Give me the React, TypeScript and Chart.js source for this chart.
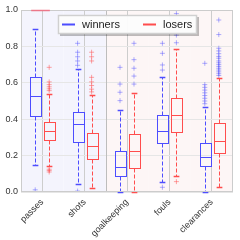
import React, { useEffect, useRef } from "react";
import { Chart, registerables } from "chart.js";

Chart.register(...registerables);

const categories = ["passes", "shots", "goalkeeping", "fouls", "clearances"];
const yTicks = [0, 0.2, 0.4, 0.6, 0.8, 1.0];
const seriesLabels = ["winners", "losers"];

const winnersLow = [0.148, 0.044, 0.0, 0.057, 0.0];
const winnersQ1 = [0.419, 0.276, 0.086, 0.271, 0.142];
const winnersMedian = [0.526, 0.372, 0.138, 0.335, 0.192];
const winnersQ3 = [0.633, 0.441, 0.223, 0.423, 0.271];
const winnersHigh = [0.897, 0.674, 0.45, 0.634, 0.469];
const winnersOutliers = [
  [0.012],
  [0.817, 0.768, 0.743, 0.72, 0.696, 0.005],
  [0.685, 0.593, 0.548, 0.502],
  [0.817, 0.762, 0.698, 0.67, 0.026],
  [0.707, 0.59, 0.575, 0.56, 0.545, 0.53, 0.515, 0.5, 0.485],
];

const losersLow = [0.141, 0.02, 0.0, 0.088, 0.026];
const losersQ1 = [0.286, 0.183, 0.134, 0.331, 0.212];
const losersMedian = [0.337, 0.254, 0.225, 0.423, 0.282];
const losersQ3 = [0.386, 0.322, 0.317, 0.515, 0.377];
const losersHigh = [0.54, 0.533, 0.546, 0.785, 0.625];
const losersOutliersRed = [
  [0.685, 0.605, 0.59, 0.578, 0.567, 0.557, 0.125, 0.118, 0.11],
  [0.768, 0.743, 0.72, 0.63, 0.605, 0.585, 0.565, 0.55],
  [],
  [0.057],
  [],
];
const losersOutliersBlue = [
  [],
  [],
  [0.817, 0.727, 0.68, 0.637, 0.593],
  [0.98, 0.862, 0.82],
  [0.945, 0.865, 0.79, 0.775, 0.76, 0.745, 0.735, 0.72, 0.71, 0.7, 0.69, 0.68, 0.67, 0.66, 0.65, 0.64],
];
const passesTopMark = 1.0;

const BLUE = "#4d4dff";
const RED = "#ff4d4d";
const BLUE_FLIER = "rgba(77,77,255,0.45)";
const RED_FLIER = "rgba(255,77,77,0.5)";
const OFF = 0.165;
const HALF = 0.135;
const FONT = '"Liberation Sans", Arial, sans-serif';

function pts(groups: number[][], off: number) {
  const out: { x: number; y: number }[] = [];
  groups.forEach((g, i) => g.forEach((v) => out.push({ x: i + off, y: v })));
  return out;
}

const boxPlugin = {
  id: "boxes",
  beforeDraw(chart: any) {
    const { ctx, chartArea: a, scales } = chart;
    const x = scales.x;
    ctx.save();
    ctx.fillStyle = "#ffffff";
    ctx.fillRect(0, 0, chart.width, chart.height);
    categories.forEach((_, i) => {
      const l = Math.max(a.left, x.getPixelForValue(i - 0.5));
      const r = Math.min(a.right, x.getPixelForValue(i + 0.5));
      ctx.fillStyle = losersMedian[i] > winnersMedian[i] ? "#fdf6f6" : "#f4f4fd";
      ctx.fillRect(l, a.top, r - l, a.bottom - a.top);
    });
    ctx.restore();
  },
  beforeDatasetsDraw(chart: any) {
    const { ctx, chartArea: a, scales } = chart;
    const x = scales.x;
    const y = scales.y;
    ctx.save();
    ctx.strokeStyle = "#bdbdbd";
    ctx.lineWidth = 1;
    for (let i = 1; i < categories.length; i++) {
      const p = losersMedian[i] > winnersMedian[i];
      const q = losersMedian[i - 1] > winnersMedian[i - 1];
      if (p !== q) {
        const px = Math.round(x.getPixelForValue(i - 0.5)) + 0.5;
        ctx.beginPath();
        ctx.moveTo(px, a.top);
        ctx.lineTo(px, a.bottom);
        ctx.stroke();
      }
    }
    const series = [
      { off: -OFF, color: BLUE, low: winnersLow, q1: winnersQ1, med: winnersMedian, q3: winnersQ3, high: winnersHigh },
      { off: OFF, color: RED, low: losersLow, q1: losersQ1, med: losersMedian, q3: losersQ3, high: losersHigh },
    ];
    const hw = x.getPixelForValue(HALF) - x.getPixelForValue(0);
    series.forEach((s) => {
      categories.forEach((_, i) => {
        const xc = Math.round(x.getPixelForValue(i + s.off)) + 0.5;
        const l = Math.round(xc - hw) + 0.5;
        const r = Math.round(xc + hw) + 0.5;
        const yq1 = Math.round(y.getPixelForValue(s.q1[i])) + 0.5;
        const yq3 = Math.round(y.getPixelForValue(s.q3[i])) + 0.5;
        const ym = Math.round(y.getPixelForValue(s.med[i])) + 0.5;
        const yl = Math.round(y.getPixelForValue(s.low[i])) + 0.5;
        const yh = Math.round(y.getPixelForValue(s.high[i])) + 0.5;
        ctx.strokeStyle = s.color;
        ctx.lineWidth = 1;
        ctx.setLineDash([4, 2]);
        ctx.beginPath();
        ctx.moveTo(xc, yq3);
        ctx.lineTo(xc, yh);
        ctx.moveTo(xc, yq1);
        ctx.lineTo(xc, yl);
        ctx.stroke();
        ctx.setLineDash([]);
        ctx.lineWidth = 1.5;
        ctx.beginPath();
        ctx.moveTo(xc - hw / 2, yh);
        ctx.lineTo(xc + hw / 2, yh);
        ctx.moveTo(xc - hw / 2, yl);
        ctx.lineTo(xc + hw / 2, yl);
        ctx.stroke();
        ctx.lineWidth = 1;
        ctx.strokeRect(l, yq3, r - l, yq1 - yq3);
        ctx.beginPath();
        ctx.moveTo(l, ym);
        ctx.lineTo(r, ym);
        ctx.stroke();
      });
    });
    ctx.restore();
  },
  afterDatasetsDraw(chart: any) {
    const { ctx, chartArea: a, scales } = chart;
    const x = scales.x;
    const y = scales.y;
    ctx.save();
    ctx.strokeStyle = "#cccccc";
    ctx.lineWidth = 1;
    ctx.strokeRect(Math.round(a.left) + 0.5, Math.round(a.top) + 0.5, Math.round(a.right - a.left) - 1, Math.round(a.bottom - a.top) - 1);
    ctx.strokeStyle = "rgba(240,110,130,0.9)";
    ctx.lineWidth = 1.5;
    const yt = Math.round(y.getPixelForValue(passesTopMark)) + 0.5;
    ctx.beginPath();
    ctx.moveTo(x.getPixelForValue(-0.26), yt);
    ctx.lineTo(x.getPixelForValue(0.18), yt);
    ctx.stroke();
    const lx = Math.round(a.left) + 37;
    const ly = Math.round(a.top) + 5;
    const lw = 139;
    const lh = 19;
    ctx.fillStyle = "rgba(0,0,0,0.25)";
    ctx.fillRect(lx + 2, ly + 2, lw, lh);
    ctx.fillStyle = "rgba(255,255,255,0.95)";
    ctx.fillRect(lx, ly, lw, lh);
    ctx.strokeStyle = "#d0d0d0";
    ctx.strokeRect(lx + 0.5, ly + 0.5, lw - 1, lh - 1);
    const cy = ly + 9.5;
    ctx.font = `11px ${FONT}`;
    ctx.textBaseline = "middle";
    ctx.textAlign = "left";
    const items = [
      { color: BLUE, x0: lx + 4, tx: lx + 24 },
      { color: RED, x0: lx + 85, tx: lx + 105 },
    ];
    items.forEach((it, k) => {
      ctx.strokeStyle = it.color;
      ctx.lineWidth = 2;
      ctx.beginPath();
      ctx.moveTo(it.x0, cy);
      ctx.lineTo(it.x0 + 13, cy);
      ctx.stroke();
      ctx.fillStyle = "#222222";
      ctx.fillText(seriesLabels[k], it.tx, cy);
    });
    ctx.restore();
  },
};

export default function App() {
  const ref = useRef<HTMLCanvasElement | null>(null);
  useEffect(() => {
    document.body.style.margin = "0";
    const canvas = ref.current;
    if (!canvas) return;
    const flier = (data: { x: number; y: number }[], color: string) => ({
      data,
      pointStyle: "cross",
      radius: 2.5,
      borderColor: color,
      backgroundColor: color,
      borderWidth: 1,
    });
    const chart = new Chart(canvas, {
      type: "scatter",
      data: {
        datasets: [
          flier(pts(winnersOutliers, -OFF), BLUE_FLIER),
          flier(pts(losersOutliersRed, OFF), RED_FLIER),
          flier(pts(losersOutliersBlue, OFF), BLUE_FLIER),
        ] as any,
      },
      options: {
        responsive: false,
        animation: false,
        devicePixelRatio: 1,
        layout: { padding: { top: 10, right: 7, left: 0, bottom: 0 } },
        plugins: { legend: { display: false }, tooltip: { enabled: false } },
        scales: {
          x: {
            type: "linear",
            min: -0.5,
            max: 4.5,
            afterFit: (s: any) => {
              s.height = 48;
            },
            afterBuildTicks: (s: any) => {
              s.ticks = categories.map((_, i) => ({ value: i }));
            },
            ticks: {
              autoSkip: false,
              minRotation: 45,
              maxRotation: 45,
              padding: 5,
              color: "#333333",
              font: { family: FONT, size: 9 },
              callback: (v: any) => categories[v as number],
            },
            grid: { color: "#cdcdcd", drawTicks: false },
            border: { display: false },
          },
          y: {
            min: 0,
            max: 1,
            afterFit: (s: any) => {
              s.width = 21;
            },
            afterBuildTicks: (s: any) => {
              s.ticks = yTicks.map((v) => ({ value: v }));
            },
            ticks: {
              padding: 3,
              color: "#333333",
              font: { family: FONT, size: 9 },
              callback: (v: any) => Number(v).toFixed(1),
            },
            grid: { color: "#e6e6e6", drawTicks: false },
            border: { display: false },
          },
        },
      },
      plugins: [boxPlugin],
    } as any);
    return () => chart.destroy();
  }, []);
  return (
    <div style={{ position: "fixed", left: 0, top: 0, width: 240, height: 240 }}>
      <canvas ref={ref} width={240} height={240} style={{ width: 240, height: 240, display: "block" }} />
    </div>
  );
}
